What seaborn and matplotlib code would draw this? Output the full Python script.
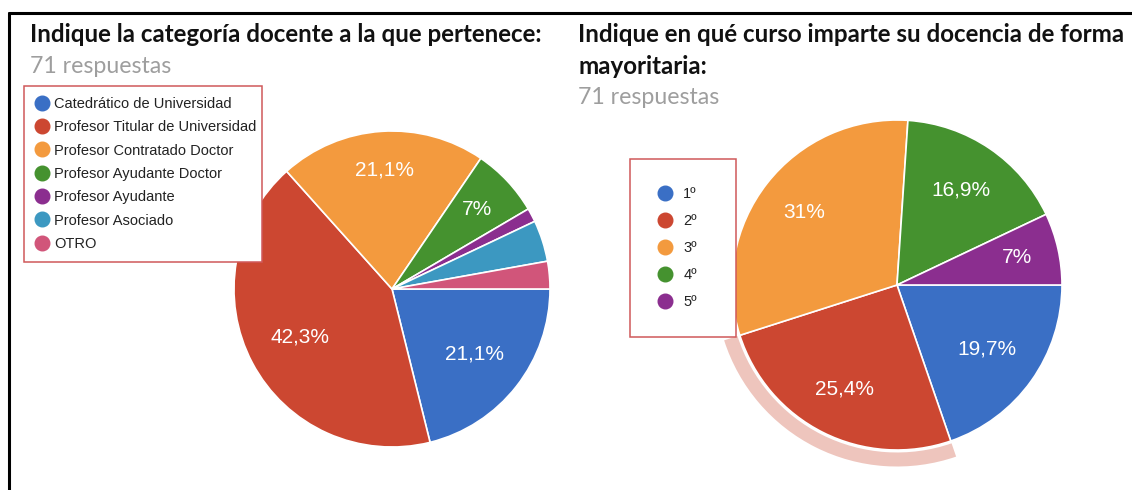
import numpy as np
import matplotlib
matplotlib.use("Agg")
import matplotlib.pyplot as plt
from matplotlib.lines import Line2D
from matplotlib.patches import Wedge
import seaborn as sns

# ---------------- data ----------------
cat_labels = ["Catedrático de Universidad", "Profesor Titular de Universidad",
              "Profesor Contratado Doctor", "Profesor Ayudante Doctor",
              "Profesor Ayudante", "Profesor Asociado", "OTRO"]
cat_counts = [15, 30, 15, 5, 1, 3, 2]
cat_colors = ["#3A6FC5", "#CC4731", "#F39A3E", "#45922F", "#8B2E8F", "#3C98C1", "#D1557A"]

course_labels = ["1º", "2º", "3º", "4º", "5º"]
course_counts = [14, 18, 22, 12, 5]
course_colors = ["#3A6FC5", "#CC4731", "#F39A3E", "#45922F", "#8B2E8F"]

title_left = "Indique la categoría docente a la que pertenece:"
title_right = ["Indique en qué curso imparte su docencia de forma", "mayoritaria:"]
subtitle = "71 respuestas"

# ---------------- style ----------------
sns.set_theme(style="white")
plt.rcParams['font.family'] = ['Liberation Sans', 'DejaVu Sans']

W, H = 1132, 490
fig = plt.figure(figsize=(W / 100, H / 100), dpi=100)
fig.patch.set_facecolor("white")

TITLE_FONT = ['Lato', 'DejaVu Sans']
TITLE_SIZE = 17.35
SUB_SIZE = 16.7
SUB_COLOR = "#9E9E9E"
LEG_SIZE = 10.5


def fy(y):
    return 1 - y / H


def px_axes(cx, cy, r, lim=1.2):
    half = r * lim
    return fig.add_axes([(cx - half) / W, (H - cy - half) / H, 2 * half / W, 2 * half / H])


def fmt(p):
    if p < 5:
        return ""
    s = f"{p:.1f}"
    if s.endswith(".0"):
        s = s[:-2]
    return s.replace(".", ",") + "%"


def draw_pie(ax, counts, colors):
    wedges, _, autotexts = ax.pie(
        counts, colors=colors, startangle=0, counterclock=False,
        autopct=fmt, pctdistance=0.67,
        wedgeprops=dict(edgecolor="white", linewidth=1.2),
        textprops=dict(color="white", fontsize=15))
    ax.set_xlim(-1.2, 1.2)
    ax.set_ylim(-1.2, 1.2)
    ax.set_aspect("equal")
    ax.axis("off")
    return wedges, autotexts


def place_labels(ax, wedges, autotexts, reach=0.85):
    """Push each label outward so its outer corner sits at `reach` of the radius."""
    fig.canvas.draw()
    r = fig.canvas.get_renderer()
    inv = ax.transData.inverted()
    for w, t in zip(wedges, autotexts):
        if not t.get_text():
            continue
        bb = t.get_window_extent(renderer=r)
        (x0, y0), (x1, y1) = inv.transform([[bb.x0, bb.y0], [bb.x1, bb.y1]])
        hw, hh = abs(x1 - x0) / 2, abs(y1 - y0) / 2
        ang = np.deg2rad((w.theta1 + w.theta2) / 2)
        c, s = np.cos(ang), np.sin(ang)
        b = 2 * (abs(c) * hw + abs(s) * hh)
        k = hw ** 2 + hh ** 2 - reach ** 2
        d = (-b + np.sqrt(b * b - 4 * k)) / 2
        t.set_position((d * c, d * s))


def make_legend(handles, labels, x0, y0, width, **kw):
    leg = fig.legend(handles, labels, loc="upper left",
                     bbox_to_anchor=(x0 / W, fy(y0), width / W, 0.0), mode="expand",
                     frameon=True, fancybox=False, edgecolor="#D0595A", framealpha=1,
                     handlelength=0.9, borderaxespad=0, prop={"size": LEG_SIZE}, **kw)
    leg.get_frame().set_linewidth(1.1)
    for t in leg.get_texts():
        t.set_color("#222222")
    return leg


def circle_handles(colors):
    return [Line2D([], [], marker="o", linestyle="", markersize=10.5,
                   markerfacecolor=c, markeredgecolor=c) for c in colors]


# ---------------- border ----------------
fig.add_artist(Line2D([9 / W, 1.0], [fy(13), fy(13)], color="black", lw=2.2,
                      transform=fig.transFigure))
fig.add_artist(Line2D([9 / W, 9 / W], [fy(13), 0], color="black", lw=2.2,
                      transform=fig.transFigure))

# ---------------- left pie ----------------
axL = px_axes(392, 289, 158)
wL, tL = draw_pie(axL, cat_counts, cat_colors)

fig.text(30 / W, fy(35), title_left, fontsize=TITLE_SIZE, fontweight="bold",
         family=TITLE_FONT, ha="left", va="center", color="#111111")
fig.text(30 / W, fy(66), subtitle, fontsize=SUB_SIZE, family=TITLE_FONT,
         ha="left", va="center", color=SUB_COLOR)

make_legend(circle_handles(cat_colors), cat_labels, 24, 86, 238,
            borderpad=0.75, labelspacing=0.64, handletextpad=0.4)

# ---------------- right pie ----------------
axR = px_axes(897, 285, 165)
wR, tR = draw_pie(axR, course_counts, course_colors)
red = wR[1]
axR.add_patch(Wedge((0, 0), 1.10, red.theta1, red.theta2, width=0.085,
                    facecolor="#EEC5BD", edgecolor="none", zorder=0))

fig.text(578 / W, fy(35), title_right[0], fontsize=TITLE_SIZE, fontweight="bold",
         family=TITLE_FONT, ha="left", va="center", color="#111111")
fig.text(578 / W, fy(66), title_right[1], fontsize=TITLE_SIZE, fontweight="bold",
         family=TITLE_FONT, ha="left", va="center", color="#111111")
fig.text(578 / W, fy(97), subtitle, fontsize=SUB_SIZE, family=TITLE_FONT,
         ha="left", va="center", color=SUB_COLOR)

make_legend(circle_handles(course_colors), course_labels, 630, 159, 106,
            borderpad=1.95, labelspacing=0.885, handletextpad=0.8)

place_labels(axL, wL, tL)
place_labels(axR, wR, tR)

fig.savefig("out.png", dpi=100, facecolor="white")
